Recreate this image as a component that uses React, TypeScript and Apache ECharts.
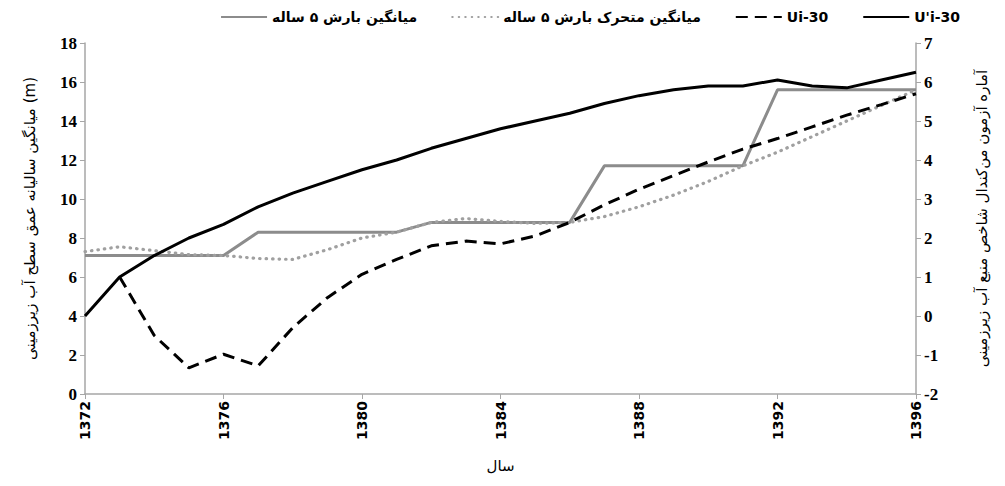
import React, { useEffect, useRef } from "react";
import * as echarts from "echarts";

const years = [
  "1372", "1373", "1374", "1375", "1376", "1377", "1378", "1379", "1380", "1381", "1382", "1383", "1384",
  "1385", "1386", "1387", "1388", "1389", "1390", "1391", "1392", "1393", "1394", "1395", "1396",
];

// left axis (m)
const meanRain5 = [
  7.1, 7.1, 7.1, 7.1, 7.1, 8.3, 8.3, 8.3, 8.3, 8.3, 8.8, 8.8, 8.8,
  8.8, 8.8, 11.7, 11.7, 11.7, 11.7, 11.7, 15.6, 15.6, 15.6, 15.6, 15.6,
];
const movingRain5 = [
  7.3, 7.55, 7.35, 7.15, 7.1, 6.95, 6.9, 7.4, 8.0, 8.3, 8.8, 9.0, 8.85,
  8.75, 8.8, 9.1, 9.6, 10.2, 10.9, 11.7, 12.4, 13.2, 14.0, 14.8, 15.6,
];
// right axis (Mann-Kendall statistic)
const ui30: (number | null)[] = [
  null, 1.0, -0.5, -1.33, -0.98, -1.28, -0.3, 0.47, 1.07, 1.45, 1.8, 1.92, 1.85,
  2.05, 2.4, 2.85, 3.25, 3.6, 3.95, 4.28, 4.55, 4.85, 5.15, 5.42, 5.7,
];
const uPrime30 = [
  0, 1.0, 1.55, 2.0, 2.35, 2.8, 3.15, 3.45, 3.75, 4.0, 4.3, 4.55, 4.8,
  5.0, 5.2, 5.45, 5.65, 5.8, 5.9, 5.9, 6.05, 5.9, 5.85, 6.05, 6.25,
];

const seriesNames = ["میانگین بارش ۵ ساله", "میانگین متحرک بارش ۵ ساله", "Ui-30", "U'i-30"];
const xName = "سال";
const leftName = "میانگین سالیانه عمق سطح آب زیرزمینی (m)";
const rightName = "آماره آزمون من‌کندال شاخص منبع آب زیرزمینی";

const axisGray = "#a6a6a6";
const numFont = "'Liberation Serif', 'DejaVu Serif', serif";
const faFont = "'DejaVu Sans', sans-serif";

export default function App() {
  const ref = useRef<HTMLDivElement>(null);
  useEffect(() => {
    if (!ref.current) return;
    const chart = echarts.init(ref.current, null, { renderer: "svg" });
    const yLabel = { color: "#000", fontFamily: numFont, fontWeight: "bold" as const, fontSize: 17 };
    chart.setOption({
      animation: false,
      backgroundColor: "#fff",
      legend: {
        top: -3,
        right: 32,
        itemWidth: 46,
        itemHeight: 10,
        itemGap: 34,
        itemStyle: { opacity: 0 },
        textStyle: { color: "#000", fontFamily: faFont, fontWeight: "bold", fontSize: 14 },
        data: seriesNames,
      },
      grid: { left: 77, right: 74, top: 35, bottom: 71, containLabel: false },
      xAxis: {
        type: "category",
        data: years,
        boundaryGap: false,
        name: xName,
        nameLocation: "middle",
        nameGap: 64,
        nameTextStyle: { color: "#000", fontFamily: faFont, fontSize: 15 },
        axisLine: { lineStyle: { color: axisGray, width: 1.5 } },
        axisTick: { interval: 3, length: 5, lineStyle: { color: axisGray } },
        axisLabel: {
          interval: 3,
          rotate: 90,
          color: "#000",
          fontFamily: faFont,
          fontWeight: "bold",
          fontSize: 14,
          margin: 7,
        },
        splitLine: { show: false },
      },
      yAxis: [
        {
          type: "value",
          min: 0,
          max: 18,
          interval: 2,
          name: leftName,
          nameLocation: "middle",
          nameRotate: 90,
          nameGap: 48,
          nameTextStyle: { color: "#000", fontFamily: faFont, fontSize: 15 },
          axisLine: { show: true, lineStyle: { color: axisGray, width: 1.5 } },
          axisTick: { show: true, length: 5, lineStyle: { color: axisGray } },
          axisLabel: { ...yLabel, margin: 8 },
          splitLine: { show: false },
        },
        {
          type: "value",
          min: -2,
          max: 7,
          interval: 1,
          position: "right",
          name: rightName,
          nameLocation: "middle",
          nameRotate: 90,
          nameGap: 58,
          nameTextStyle: { color: "#000", fontFamily: faFont, fontSize: 15 },
          axisLine: { show: true, lineStyle: { color: axisGray, width: 1.5 } },
          axisTick: { show: true, length: 5, lineStyle: { color: axisGray } },
          axisLabel: { ...yLabel, margin: 8 },
          splitLine: { show: false },
        },
      ],
      series: [
        {
          name: seriesNames[0],
          type: "line",
          yAxisIndex: 0,
          data: meanRain5,
          symbol: "none",
          lineStyle: { color: "#8c8c8c", width: 3 },
          itemStyle: { color: "#8c8c8c" },
        },
        {
          name: seriesNames[1],
          type: "line",
          yAxisIndex: 0,
          data: movingRain5,
          symbol: "none",
          lineStyle: { color: "#a0a0a0", width: 3.2, type: [0.5, 6], cap: "round" },
          itemStyle: { color: "#a0a0a0" },
        },
        {
          name: seriesNames[2],
          type: "line",
          yAxisIndex: 1,
          data: ui30,
          symbol: "none",
          lineStyle: { color: "#000", width: 3, type: [12, 7] },
          itemStyle: { color: "#000" },
        },
        {
          name: seriesNames[3],
          type: "line",
          yAxisIndex: 1,
          data: uPrime30,
          symbol: "none",
          lineStyle: { color: "#000", width: 3 },
          itemStyle: { color: "#000" },
        },
      ],
    });
    return () => chart.dispose();
  }, []);
  return <div ref={ref} style={{ width: 989, height: 470 }} />;
}
